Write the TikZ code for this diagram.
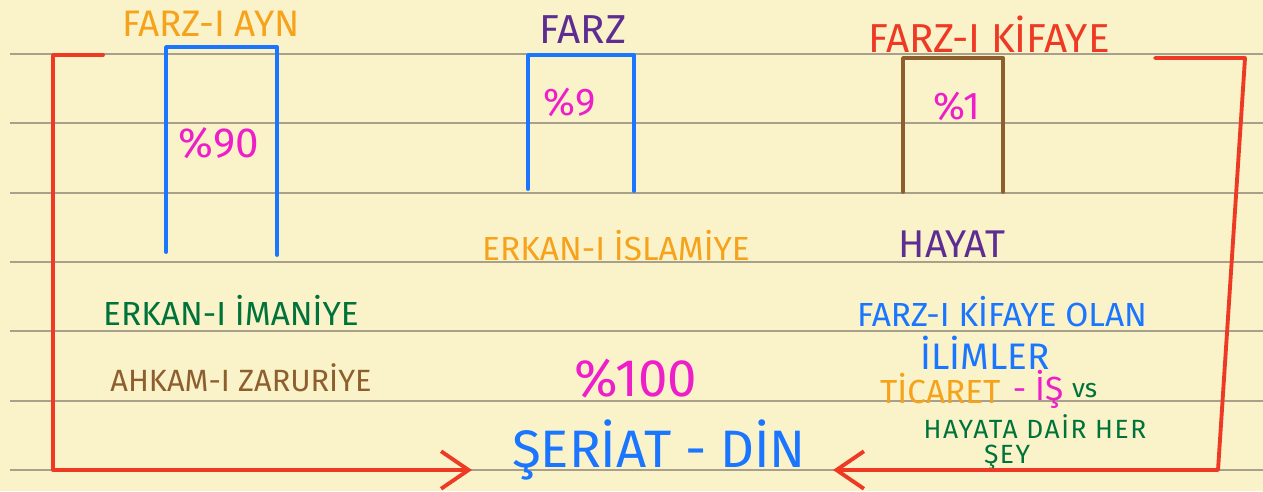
\documentclass[tikz,border=0pt]{standalone}
\usepackage{fontspec}
\setmainfont{Fira Sans}
\usepackage{xcolor}
\usetikzlibrary{arrows.meta}
\definecolor{paper}{HTML}{FAF3CA}
\definecolor{rule}{HTML}{A9A08C}
\definecolor{inkred}{HTML}{EE3A24}
\definecolor{inkblue}{HTML}{1A75FF}
\definecolor{inkorange}{HTML}{F7A21B}
\definecolor{inkpurple}{HTML}{5E2D91}
\definecolor{inkpink}{HTML}{EE1FC8}
\definecolor{inkgreen}{HTML}{00733A}
\definecolor{inkbrown}{HTML}{8E5F2E}
\tikzset{
  hand/.style={font=\fontsize{19}{22}\selectfont},
  bighand/.style={font=\fontsize{30}{34}\selectfont},
  smallhand/.style={font=\fontsize{15}{18}\selectfont\addfontfeature{LetterSpace=6}, inner sep=1pt},
  pen/.style={line width=2.2pt, line cap=round, line join=round},
  redpen/.style={pen, inkred, -{Straight Barb[length=0.55cm, width=0.75cm, line width=2.2pt]}}
}

\begin{document}
\begin{tikzpicture}[x=0.02cm, y=-0.02cm]
	% paper and ruled lines
	\fill [paper] (0,0) rectangle (1263,491);
	\useasboundingbox (0,0) rectangle (1263,491);
	\foreach \ry in {54,123,193,262,331,401,470}
		\draw [rule, line width=0.8pt] (10,\ry) -- (1263,\ry);
	% the three boxes
	\draw [pen, inkblue] (166,252) -- (166,47) -- (277,47) -- (277,255);
	\draw [pen, inkblue] (528,189) -- (528,55) -- (634,55) -- (634,191);
	\draw [pen, inkbrown] (903,192) -- (903,58) -- (1003,58) -- (1003,192);
	% titles
	\node [hand, inkorange, font=\fontsize{21}{24}\selectfont] (ayn) at (211,24) {FARZ-I AYN};
	\node [hand, inkpurple, font=\fontsize{23}{26}\selectfont] (farz) at (583,30) {FARZ};
	\node [hand, inkred, font=\fontsize{23}{26}\selectfont] (kifaye) at (989,34) {FARZ-I KİFAYE};
	% percentages
	\node [hand, inkpink, font=\fontsize{24}{28}\selectfont] (p90) at (219,143) {\%90};
	\node [hand, inkpink, font=\fontsize{22}{26}\selectfont] (p9) at (570,102) {\%9};
	\node [hand, inkpink, font=\fontsize{22}{26}\selectfont] (p1) at (957,106) {\%1};
	\node [hand, inkpink, font=\fontsize{30}{34}\selectfont] (p100) at (636,379) {\%100};
	% labels below
	\node [hand, inkorange] (islamiye) at (616,246) {ERKAN-I İSLAMİYE};
	\node [hand, inkpurple, font=\fontsize{22}{26}\selectfont] (hayat) at (952,244) {HAYAT};
	\node [hand, inkgreen] (imaniye) at (231,310) {ERKAN-I İMANİYE};
	\node [hand, inkbrown, font=\fontsize{17.5}{21}\selectfont] (zaruriye) at (241,378) {AHKAM-I ZARURİYE};
	\node [hand, inkblue] (olan) at (1002,312) {FARZ-I KİFAYE OLAN};
	\node [hand, inkblue, font=\fontsize{21}{24}\selectfont] (ilimler) at (985,353) {İLİMLER};
	\node [hand, inkorange, anchor=west] (ticaret) at (874,389) {TİCARET};
	\node [hand, inkpink, anchor=west] (is) at (ticaret.east) {- İŞ};
	\node [inkgreen, font=\fontsize{15}{18}\selectfont, anchor=west] (vs) at ([xshift=-2, yshift=-1]is.east) {vs};
	\node [smallhand, inkgreen] (dair) at (1035,427) {HAYATA DAİR HER};
	\node [smallhand, inkgreen] (sey) at (1007,457) {ŞEY};
	\node [bighand, inkblue] (seriat) at (659,450) {ŞERİAT - DİN};
	% red brackets
	\coordinate (lefttip) at (472,470);
	\coordinate (righttip) at (833,470);
	\draw [redpen] (103,55) -- (53,55) -- (53,470) -- (lefttip);
	\draw [redpen] (1155,58) -- (1245,58) -- (1218,470) -- (righttip);
\end{tikzpicture}
\end{document}
